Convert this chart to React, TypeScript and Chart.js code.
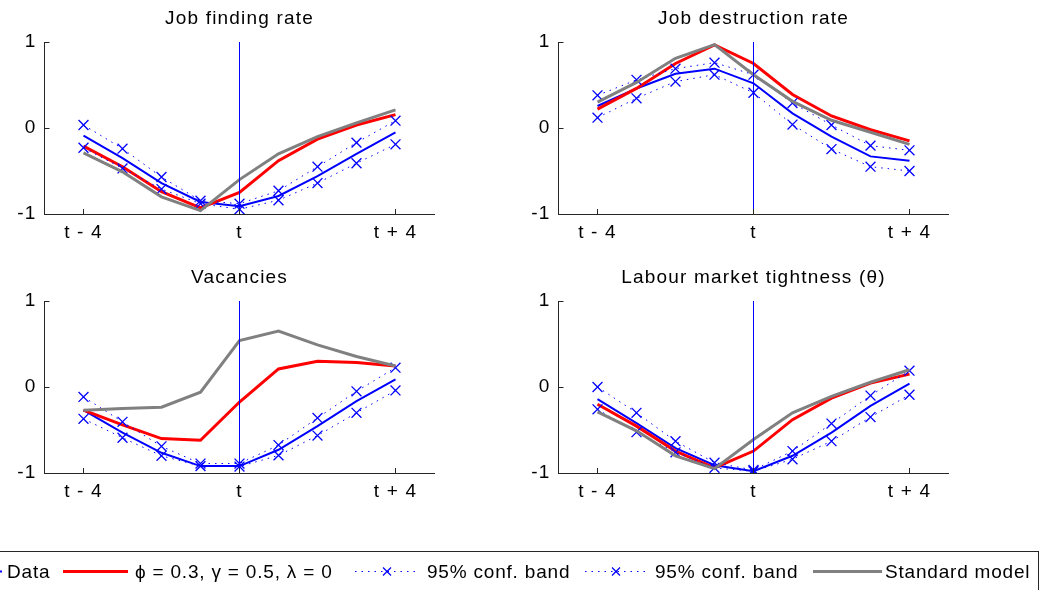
import React, { useEffect, useRef } from 'react';
import { Chart, registerables } from 'chart.js';

Chart.register(...registerables);

// ---------- data ----------
const periods = [-4, -3, -2, -1, 0, 1, 2, 3, 4];
const xTickValues = [-4, 0, 4];
const xTickLabels = ['t - 4', 't', 't + 4'];
const yTickValues = [-1, 0, 1];
const shockLine = [-1, 1];

const panelTitles = ['Job finding rate', 'Job destruction rate', 'Vacancies', 'Labour market tightness (θ)'];
const seriesNames = ['Data', 'ϕ = 0.3, γ = 0.5, λ = 0', '95% conf. band', '95% conf. band', 'Standard model'];

// Job finding rate
const jfData = [-0.09, -0.35, -0.64, -0.86, -0.91, -0.79, -0.56, -0.3, -0.05];
const jfModel = [-0.21, -0.45, -0.74, -0.93, -0.75, -0.38, -0.13, 0.035, 0.155];
const jfUpper = [0.035, -0.24, -0.57, -0.845, -0.88, -0.73, -0.45, -0.17, 0.085];
const jfLower = [-0.23, -0.47, -0.71, -0.88, -0.945, -0.84, -0.64, -0.41, -0.19];
const jfStandard = [-0.29, -0.51, -0.8, -0.96, -0.6, -0.3, -0.1, 0.06, 0.21];

// Job destruction rate
const jdData = [0.256, 0.46, 0.63, 0.69, 0.52, 0.17, -0.1, -0.33, -0.38];
const jdModel = [0.22, 0.46, 0.75, 0.965, 0.75, 0.39, 0.14, -0.02, -0.15];
const jdUpper = [0.38, 0.56, 0.69, 0.76, 0.62, 0.29, 0.035, -0.205, -0.26];
const jdLower = [0.12, 0.345, 0.54, 0.62, 0.41, 0.04, -0.245, -0.45, -0.5];
const jdStandard = [0.3, 0.53, 0.81, 0.97, 0.62, 0.31, 0.09, -0.05, -0.19];

// Vacancies
const vData = [-0.27, -0.53, -0.765, -0.92, -0.92, -0.73, -0.455, -0.165, 0.09];
const vModel = [-0.27, -0.44, -0.6, -0.62, -0.175, 0.21, 0.3, 0.285, 0.245];
const vUpper = [-0.115, -0.405, -0.69, -0.89, -0.89, -0.675, -0.36, -0.05, 0.225];
const vLower = [-0.37, -0.59, -0.8, -0.92, -0.925, -0.795, -0.565, -0.3, -0.04];
const vStandard = [-0.27, -0.25, -0.235, -0.06, 0.54, 0.65, 0.49, 0.355, 0.245];

// Labour market tightness
const tData = [-0.14, -0.42, -0.71, -0.91, -0.98, -0.8, -0.53, -0.22, 0.04];
const tModel = [-0.2, -0.455, -0.745, -0.94, -0.745, -0.38, -0.13, 0.045, 0.15];
const tUpper = [0.0, -0.3, -0.63, -0.88, -0.965, -0.745, -0.425, -0.1, 0.19];
const tLower = [-0.26, -0.525, -0.76, -0.94, -0.98, -0.84, -0.63, -0.35, -0.09];
const tStandard = [-0.29, -0.51, -0.8, -0.95, -0.61, -0.3, -0.11, 0.055, 0.2];

const panelSeries = [
  [jfData, jfModel, jfUpper, jfLower, jfStandard],
  [jdData, jdModel, jdUpper, jdLower, jdStandard],
  [vData, vModel, vUpper, vLower, vStandard],
  [tData, tModel, tUpper, tLower, tStandard],
];

// ---------- styles ----------
const FONT = '"Liberation Sans", Arial, Helvetica, sans-serif';
const FS = 19;
const LETTER = '1.2px';
const LEGEND_LETTER = '0.8px';
const AXIS = '#262626';
const BLUE = '#0000ff';
const RED = '#ff0000';
const GRAY = '#808080';
const CW = 479;
const CH = 259;
const SIDE = 44.5;

Chart.defaults.font.family = FONT;

const spacingPlugin = {
  id: 'spacing',
  beforeLayout(chart: any) {
    chart.ctx.letterSpacing = LETTER;
  },
  beforeDraw(chart: any) {
    chart.ctx.letterSpacing = LETTER;
  },
};

const inwardTicks = {
  id: 'inwardTicks',
  afterDraw(chart: any) {
    const { ctx, chartArea, scales } = chart;
    ctx.save();
    ctx.strokeStyle = AXIS;
    ctx.lineWidth = 1;
    ctx.beginPath();
    const bottom = Math.round(chartArea.bottom);
    const left = Math.round(chartArea.left - 0.5) + 0.5;
    xTickValues.forEach((v) => {
      const px = Math.round(scales.x.getPixelForValue(v) - 0.5) + 0.5;
      ctx.moveTo(px, bottom);
      ctx.lineTo(px, bottom - 5);
    });
    yTickValues.forEach((v) => {
      const py = Math.round(scales.y.getPixelForValue(v) - 0.5) + 0.5;
      ctx.moveTo(left, py);
      ctx.lineTo(left + 5, py);
    });
    ctx.stroke();
    ctx.restore();
  },
};

function toXY(values: number[]) {
  return values.map((y, i) => ({ x: periods[i], y }));
}

function makeConfig(idx: number): any {
  const [d, m, up, lo, st] = panelSeries[idx];
  const band = (vals: number[], label: string, order: number) => ({
    label,
    data: toXY(vals),
    borderColor: BLUE,
    backgroundColor: BLUE,
    borderWidth: 1,
    borderDash: [1.5, 5],
    pointStyle: 'crossRot',
    pointRadius: 7,
    pointBorderWidth: 1.3,
    pointBorderColor: BLUE,
    pointBackgroundColor: BLUE,
    order,
  });
  return {
    type: 'line',
    data: {
      datasets: [
        {
          label: 't',
          data: shockLine.map((y) => ({ x: 0, y })),
          borderColor: BLUE,
          borderWidth: 1,
          pointRadius: 0,
          order: 0,
        },
        { label: seriesNames[4], data: toXY(st), borderColor: GRAY, borderWidth: 3, pointRadius: 0, order: 1 },
        band(lo, seriesNames[3], 2),
        band(up, seriesNames[2], 3),
        { label: seriesNames[1], data: toXY(m), borderColor: RED, borderWidth: 3, pointRadius: 0, order: 4 },
        { label: seriesNames[0], data: toXY(d), borderColor: BLUE, borderWidth: 2, pointRadius: 0, order: 5 },
      ],
    },
    options: {
      responsive: false,
      animation: false,
      devicePixelRatio: 1,
      layout: { padding: 0 },
      plugins: {
        legend: { display: false },
        tooltip: { enabled: false },
        title: {
          display: true,
          text: panelTitles[idx],
          color: '#000',
          font: { size: FS, weight: 'normal', family: FONT, lineHeight: 1.2 },
          padding: { top: 7.5, bottom: 11.7 },
        },
      },
      scales: {
        x: {
          type: 'linear',
          min: -5,
          max: 5,
          afterBuildTicks: (s: any) => {
            s.ticks = xTickValues.map((value) => ({ value }));
          },
          afterFit: (s: any) => {
            s.height = 45;
          },
          ticks: {
            color: '#000',
            font: { size: FS, family: FONT },
            padding: 7,
            maxRotation: 0,
            autoSkip: false,
            callback: (v: number) => {
              const i = xTickValues.indexOf(v);
              return i >= 0 ? xTickLabels[i] : '';
            },
          },
          grid: { display: false, drawTicks: false },
          border: { display: true, color: AXIS, width: 1 },
        },
        y: {
          type: 'linear',
          position: 'left',
          min: -1,
          max: 1,
          afterBuildTicks: (s: any) => {
            s.ticks = yTickValues.map((value) => ({ value }));
          },
          afterFit: (s: any) => {
            s.width = SIDE;
          },
          ticks: {
            color: '#000',
            font: { size: FS, family: FONT },
            padding: 8,
            autoSkip: false,
            callback: (v: number) => String(v),
          },
          grid: { display: false, drawTicks: false },
          border: { display: true, color: AXIS, width: 1 },
        },
        yRight: {
          type: 'linear',
          position: 'right',
          min: -1,
          max: 1,
          afterFit: (s: any) => {
            s.width = SIDE;
          },
          ticks: { display: false },
          grid: { display: false, drawTicks: false },
          border: { display: false },
        },
      },
    },
    plugins: [spacingPlugin, inwardTicks],
  };
}

function Panel({ idx, left, top }: { idx: number; left: number; top: number }) {
  const ref = useRef<HTMLCanvasElement>(null);
  useEffect(() => {
    const chart = new Chart(ref.current as HTMLCanvasElement, makeConfig(idx));
    return () => chart.destroy();
  }, [idx]);
  return (
    <canvas
      ref={ref}
      width={CW}
      height={CH}
      style={{ position: 'absolute', left, top, width: CW, height: CH }}
    />
  );
}

type Sample = { x1: number; x2: number; color: string; width: number; dash?: string; marker?: number };
const legendItems: { text: string; textLeft: number; sample: Sample }[] = [
  { text: seriesNames[0], textLeft: 7, sample: { x1: -20, x2: 2, color: BLUE, width: 2 } },
  { text: seriesNames[1], textLeft: 135, sample: { x1: 63, x2: 128, color: RED, width: 3 } },
  { text: seriesNames[2], textLeft: 427, sample: { x1: 355, x2: 417, color: BLUE, width: 1, dash: '1.5 5', marker: 387 } },
  { text: seriesNames[3], textLeft: 655, sample: { x1: 585, x2: 646, color: BLUE, width: 1, dash: '1.5 5', marker: 616 } },
  { text: seriesNames[4], textLeft: 885, sample: { x1: 813, x2: 882, color: GRAY, width: 3 } },
];

function Legend() {
  const cy = 572;
  return (
    <>
      <div
        style={{
          position: 'absolute',
          left: -10,
          top: 551,
          width: 1049,
          height: 70,
          border: `1px solid ${AXIS}`,
          boxSizing: 'border-box',
          background: '#fff',
        }}
      />
      <svg
        width={1043}
        height={590}
        style={{ position: 'absolute', left: 0, top: 0, overflow: 'visible' }}
      >
        {legendItems.map((it, i) => (
          <g key={i}>
            <line
              x1={it.sample.x1}
              x2={it.sample.x2}
              y1={cy - 0.5}
              y2={cy - 0.5}
              stroke={it.sample.color}
              strokeWidth={it.sample.width}
              strokeDasharray={it.sample.dash}
            />
            {it.sample.marker !== undefined && (
              <g stroke={BLUE} strokeWidth={1.2}>
                <line x1={it.sample.marker - 4} y1={cy - 4.5} x2={it.sample.marker + 4} y2={cy + 3.5} />
                <line x1={it.sample.marker - 4} y1={cy + 3.5} x2={it.sample.marker + 4} y2={cy - 4.5} />
              </g>
            )}
          </g>
        ))}
      </svg>
      {legendItems.map((it, i) => (
        <div
          key={i}
          style={{
            position: 'absolute',
            left: it.textLeft,
            top: cy - 11,
            height: 22,
            lineHeight: '22px',
            fontSize: FS,
            fontFamily: FONT,
            letterSpacing: LEGEND_LETTER,
            color: '#000',
            whiteSpace: 'nowrap',
          }}
        >
          {it.text}
        </div>
      ))}
    </>
  );
}

export default function App() {
  return (
    <div
      style={{
        position: 'absolute',
        left: 0,
        top: 0,
        width: 1043,
        height: 590,
        overflow: 'hidden',
        background: '#fff',
      }}
    >
      <Panel idx={0} left={0} top={0} />
      <Panel idx={1} left={514} top={0} />
      <Panel idx={2} left={0} top={259} />
      <Panel idx={3} left={514} top={259} />
      <Legend />
    </div>
  );
}
